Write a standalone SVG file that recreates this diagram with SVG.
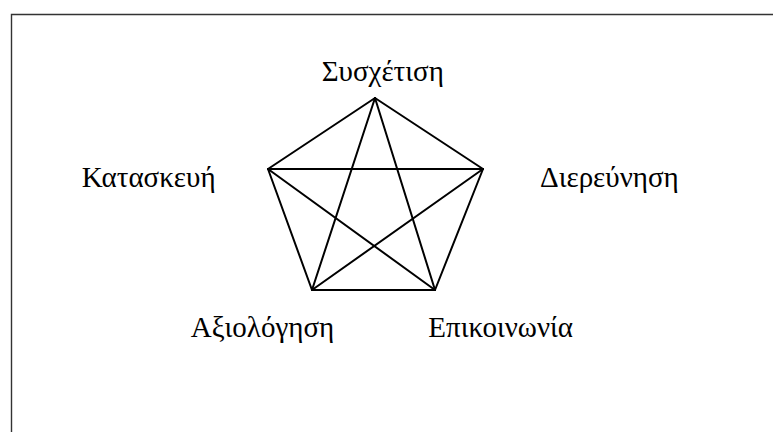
<svg xmlns="http://www.w3.org/2000/svg" width="773" height="432" viewBox="0 0 773 432">
<style>
.lbl{font-family:"Liberation Serif","Times New Roman",serif;font-size:29px;fill:#000}
.edge{stroke:#000;stroke-width:2;fill:none;stroke-linecap:round}
</style>
<rect x="0" y="0" width="773" height="432" fill="#fff"/>
<path d="M11.5 432V14.5H773" stroke="#333" stroke-width="1.4" fill="none"/>
<g id="connectors">
<line class="edge" x1="375" y1="98" x2="268" y2="169"/>
<line class="edge" x1="375" y1="98" x2="483" y2="169"/>
<line class="edge" x1="375" y1="98" x2="312" y2="290"/>
<line class="edge" x1="375" y1="98" x2="435" y2="290"/>
<line class="edge" x1="268" y1="169" x2="483" y2="169"/>
<line class="edge" x1="268" y1="169" x2="312" y2="290"/>
<line class="edge" x1="268" y1="169" x2="435" y2="290"/>
<line class="edge" x1="483" y1="169" x2="312" y2="290"/>
<line class="edge" x1="483" y1="169" x2="435" y2="290"/>
<line class="edge" x1="312" y1="290" x2="435" y2="290"/>
</g>
<g id="n-sysxetisi"><text class="lbl" x="321.7" y="81">Συσχέτιση</text></g>
<g id="n-kataskevi"><text class="lbl" x="81.7" y="187">Κατασκευή</text></g>
<g id="n-dierevnisi"><text class="lbl" x="540" y="187">Διερεύνηση</text></g>
<g id="n-axiologisi"><text class="lbl" x="190.7" y="337">Αξιολόγηση</text></g>
<g id="n-epikoinonia"><text class="lbl" x="428.3" y="337">Επικοινωνία</text></g>
</svg>
